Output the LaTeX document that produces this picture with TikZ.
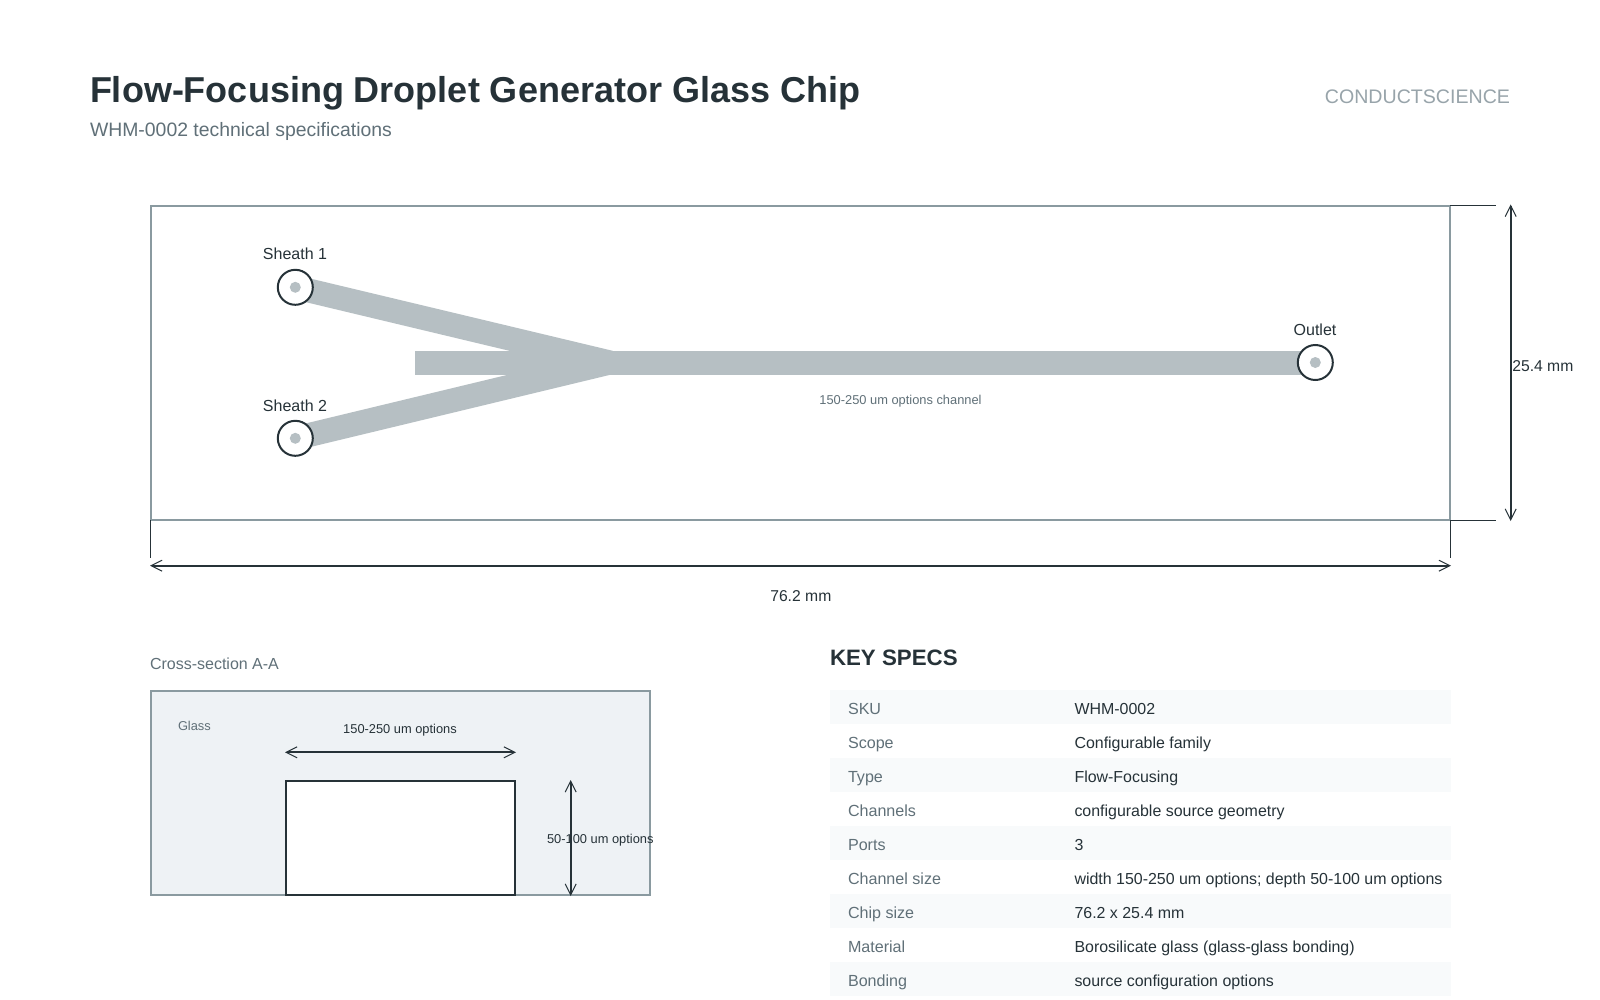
\documentclass[tikz,border=0pt]{standalone}
\usepackage{fontspec}
\setmainfont{Liberation Sans}
\usetikzlibrary{arrows.meta}
\definecolor{ink}{HTML}{263238}
\definecolor{muted}{HTML}{607078}
\definecolor{faint}{HTML}{98A4AA}
\definecolor{edge}{HTML}{8A9AA0}
\definecolor{chan}{HTML}{B6BFC3}
\definecolor{glass}{HTML}{EEF2F5}
\definecolor{stripe}{HTML}{F8FAFB}
\newcommand{\fs}[1]{\fontsize{#1}{#1}\selectfont}
\tikzset{
  lbl/.style={inner sep=0pt,outer sep=0pt,text=ink,font=\fs{15.7},anchor=base},
  lblw/.style={lbl,anchor=base west},
  small/.style={lbl,font=\fs{12.85}},
  keytxt/.style={lblw,text=muted,font=\fs{16.1}},
  valtxt/.style={lblw,text=ink,font=\fs{15.95}},
  dim/.style={draw=ink,line width=2pt,{Straight Barb[length=11pt,width=11pt,line width=1pt]}-{Straight Barb[length=11pt,width=11pt,line width=1pt]}},
  tick/.style={draw=ink,line width=1pt},
  chanline/.style={draw=chan,line width=24pt},
  port/.style={circle,draw=ink,fill=white,line width=2pt,minimum size=35pt,inner sep=0pt},
  portdot/.style={circle,fill=chan,minimum size=11pt,inner sep=0pt}
}
\begin{document}
\begin{tikzpicture}[x=1pt,y=-1pt]
\useasboundingbox (0,0) rectangle (1600,1000);
\fill[white] (0,0) rectangle (1600,1000);
% header
\node[lblw,font=\bfseries\fs{36}] (title) at (90,103) {Flow-Focusing Droplet Generator Glass Chip};
\node[lblw,text=muted,font=\fs{19.4}] (subtitle) at (90,136.5) {WHM-0002 technical specifications};
\node[lbl,anchor=base east,text=faint,font=\fs{19.6}] (brand) at (1510,104) {CONDUCTSCIENCE};
% chip
\draw[edge,line width=2pt] (151,206) rectangle (1450,520);
\coordinate (s1) at (295.3,287.3);
\coordinate (s2) at (295.3,438.3);
\coordinate (out) at (1315.3,362.5);
\coordinate (inl) at (415,362.5);
\coordinate (junc) at (610,362.5);
\draw[chanline] (inl) -- (out);
\draw[chanline] (s1) -- (junc);
\draw[chanline] (s2) -- (junc);
\node[port] (p1) at (s1) {};
\node[port] (p2) at (s2) {};
\node[port] (p3) at (out) {};
\node[portdot] (d1) at (s1) {};
\node[portdot] (d2) at (s2) {};
\node[portdot] (d3) at (out) {};
\node[lbl,font=\fs{16}] (ls1) at (295,260) {Sheath 1};
\node[lbl,font=\fs{16}] (ls2) at (295,411) {Sheath 2};
\node[lbl,font=\fs{16}] (lo) at (1315,335) {Outlet};
\node[small,text=muted] (lc) at (900.5,404) {150-250 um options channel};
% chip dimensions
\coordinate (rt) at (1450,205.3);
\coordinate (rte) at (1496,205.3);
\coordinate (rb) at (1450,520.5);
\coordinate (rbe) at (1496,520.5);
\coordinate (bl) at (150.5,520);
\coordinate (ble) at (150.5,558);
\coordinate (br) at (1450.3,520);
\coordinate (bre) at (1450.3,558);
\draw[tick] (rt) -- (rte);
\draw[tick] (rb) -- (rbe);
\draw[tick] (bl) -- (ble);
\draw[tick] (br) -- (bre);
\coordinate (va) at (1510.7,204.5);
\coordinate (vb) at (1510.7,521);
\coordinate (ha) at (150,565.7);
\coordinate (hb) at (1451,565.7);
\draw[dim] (va) -- (vb);
\draw[dim] (ha) -- (hb);
\node[lblw] (lh) at (1512.3,371) {25.4 mm};
\node[lbl] (lw) at (800.8,601.2) {76.2 mm};
% cross-section
\node[lblw,text=muted,font=\fs{16}] (cs) at (150,669.5) {Cross-section A-A};
\draw[edge,fill=glass,line width=2pt] (151,691) rectangle (650,895);
\draw[ink,fill=white,line width=2pt] (286,781) rectangle (515,895);
\node[small,anchor=base west,text=muted] (lg) at (178,730) {Glass};
\node[small] (l15) at (400,733) {150-250 um options};
\coordinate (xa) at (285,752.3);
\coordinate (xb) at (516,752.3);
\coordinate (ya) at (570.7,780);
\coordinate (yb) at (570.7,896);
\draw[dim] (xa) -- (xb);
\draw[dim] (ya) -- (yb);
\node[small] (l50) at (600.3,843) {50-100 um options};
% table
\node[lblw,font=\bfseries\fs{22.3}] (ks) at (830,665) {KEY SPECS};
\foreach \i in {0,2,4,6,8}
  \fill[stripe] (830,{690+34*\i}) rectangle (1451,{724+34*\i});
\foreach \i/\k/\v in {
  0/{SKU}/{WHM-0002},
  1/{Scope}/{Configurable family},
  2/{Type}/{Flow-Focusing},
  3/{Channels}/{configurable source geometry},
  4/{Ports}/{3},
  5/{Channel size}/{width 150-250 um options; depth 50-100 um options},
  6/{Chip size}/{76.2 x 25.4 mm},
  7/{Material}/{Borosilicate glass (glass-glass bonding)},
  8/{Bonding}/{source configuration options}}{
  \node[keytxt] (k\i) at (848,{714+34*\i}) {\k};
  \node[valtxt] (v\i) at (1074.5,{714+34*\i}) {\v};
}
\end{tikzpicture}
\end{document}
